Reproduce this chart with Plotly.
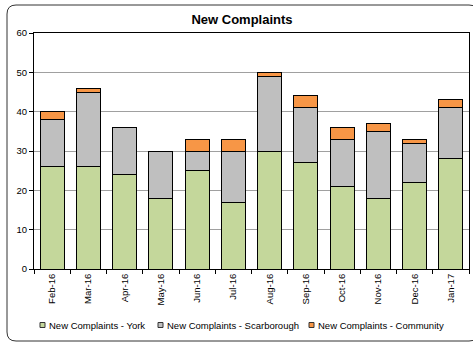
import plotly.graph_objects as go

months = ["Feb-16", "Mar-16", "Apr-16", "May-16", "Jun-16", "Jul-16",
          "Aug-16", "Sep-16", "Oct-16", "Nov-16", "Dec-16", "Jan-17"]
york = [26, 26, 24, 18, 25, 17, 30, 27, 21, 18, 22, 28]
scarborough = [12, 19, 12, 12, 5, 13, 19, 14, 12, 17, 10, 13]
community = [2, 1, 0, 0, 3, 3, 1, 3, 3, 2, 1, 2]

series_names = ["New Complaints - York", "New Complaints - Scarborough",
                "New Complaints - Community"]
series_colors = ["#c4d79b", "#bfbfbf", "#f79646"]
y_ticks = [0, 10, 20, 30, 40, 50, 60]

FONT = "Liberation Sans, Arial, sans-serif"
W, H = 473, 342
L, R, T, B = 34, 4, 33, 73
pw, ph = W - L - R, H - T - B

fig = go.Figure()
for name, vals, col in zip(series_names, [york, scarborough, community], series_colors):
    fig.add_trace(go.Bar(
        x=months, y=vals, name=name, marker_color=col,
        marker_line_color="#000000", marker_line_width=1,
        showlegend=False,
    ))


def px_to_paper_x(px):
    return (px - L) / pw


def px_to_paper_y(py):
    return (H - B - py) / ph


# rounded outer frame
x0, x1 = px_to_paper_x(7), px_to_paper_x(478)
y0, y1 = px_to_paper_y(341), px_to_paper_y(5)
rx, ry = 9 / pw, 9 / ph
frame = (f"M {x0+rx},{y1} L {x1-rx},{y1} Q {x1},{y1} {x1},{y1-ry} "
         f"L {x1},{y0+ry} Q {x1},{y0} {x1-rx},{y0} L {x0+rx},{y0} "
         f"Q {x0},{y0} {x0},{y0+ry} L {x0},{y1-ry} Q {x0},{y1} {x0+rx},{y1} Z")
shapes = [dict(type="path", xref="paper", yref="paper", path=frame,
               line=dict(color="#333333", width=1), layer="below")]

# legend row drawn beneath the axis
annotations = []
legend_y = px_to_paper_y(325)
legend_x = [40, 158, 309]
sq = 5
for lx, name, col in zip(legend_x, series_names, series_colors):
    shapes.append(dict(type="rect", xref="paper", yref="paper",
                       x0=px_to_paper_x(lx), x1=px_to_paper_x(lx + sq),
                       y0=legend_y - (sq / 2) / ph, y1=legend_y + (sq / 2) / ph,
                       fillcolor=col, line=dict(color="#333333", width=1)))
    annotations.append(dict(xref="paper", yref="paper", x=px_to_paper_x(lx + sq + 2),
                            y=legend_y, text=name, showarrow=False,
                            xanchor="left", yanchor="middle",
                            font=dict(family=FONT, size=9.5, color="#000000")))

fig.update_layout(
    width=W, height=H,
    margin=dict(l=L, r=R, t=T, b=B),
    barmode="stack", bargap=0.34,
    paper_bgcolor="#ffffff", plot_bgcolor="#ffffff",
    font=dict(family=FONT, size=9.5, color="#000000"),
    title=dict(text="<b>New Complaints</b>", x=242 / W, xanchor="center",
               y=1 - 19 / H, yanchor="middle",
               font=dict(family=FONT, size=13, color="#000000")),
    shapes=shapes, annotations=annotations,
    xaxis=dict(type="category", tickangle=-90, showline=True, linecolor="#000000",
               linewidth=1, mirror=True, ticks="outside", tickson="boundaries",
               ticklen=4, tickcolor="#000000", showgrid=False,
               tickfont=dict(family=FONT, size=9.5)),
    yaxis=dict(range=[0, 60], tickvals=y_ticks, showline=True, linecolor="#000000",
               linewidth=1, mirror=True, ticks="outside", ticklen=4,
               tickcolor="#000000", showgrid=True, gridcolor="#a0a0a0",
               gridwidth=1, zeroline=False,
               tickfont=dict(family=FONT, size=9.5)),
)

fig.write_html("out.html")
